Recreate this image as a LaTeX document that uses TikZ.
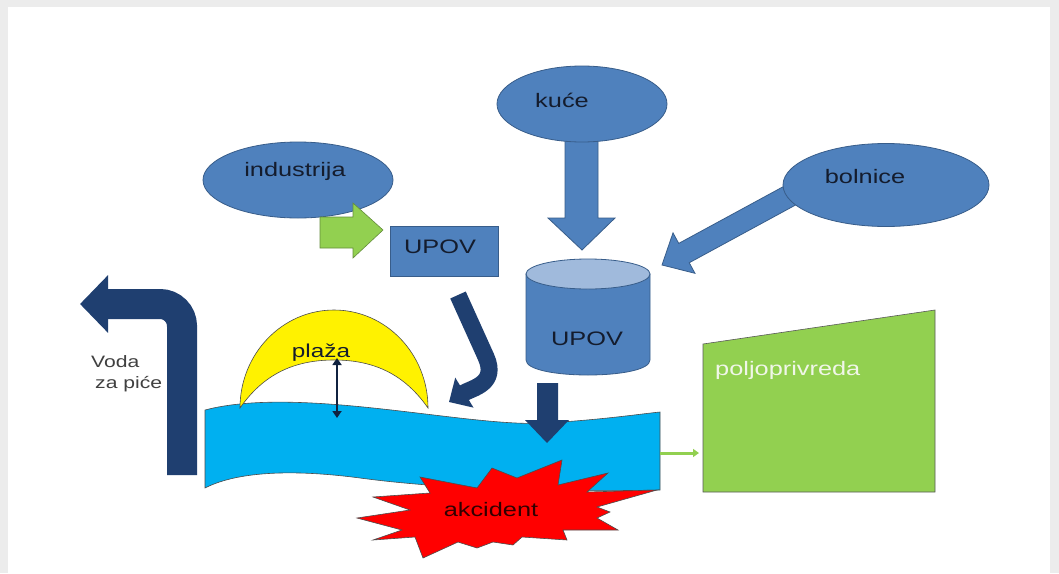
\documentclass[tikz,border=0pt]{standalone}
\usepackage{fontspec}
\setmainfont{Liberation Sans}
\usetikzlibrary{shapes.geometric,arrows.meta}
\definecolor{mblue}{RGB}{79,129,189}
\definecolor{mblueline}{RGB}{56,93,138}
\definecolor{ltblue}{RGB}{160,186,220}
\definecolor{navy}{RGB}{31,63,112}
\definecolor{dnavy}{RGB}{16,34,64}
\definecolor{lgreen}{RGB}{146,208,80}
\definecolor{dgreen}{RGB}{100,140,60}
\definecolor{cyanw}{RGB}{0,176,240}
\definecolor{txt}{RGB}{20,28,45}
\definecolor{bgc}{RGB}{236,236,236}
\newcommand\wide[1]{\scalebox{1.3}[1]{#1}}
\begin{document}
\begin{tikzpicture}[x=1pt,y=-1pt,
  lbl/.style={font=\fontsize{19.5}{23}\selectfont, text=txt, inner sep=0pt, anchor=base},
  blob/.style={ellipse, fill=mblue, draw=mblueline, line width=0.8pt, inner sep=0pt},
  bluearrow/.style={fill=mblue, draw=mblueline, line width=0.8pt},
  navyarrow/.style={fill=navy, draw=none},
  outl/.style={draw=black!70, line width=0.6pt}]
\useasboundingbox (0,0) rectangle (1059,573);
\fill[bgc] (0,0) rectangle (1059,573);
\fill[white] (8,7) rectangle (1050,573);

% river
\filldraw[fill=cyanw, outl] (205,410) .. controls (300,385) and (470,428) .. (545,423)
  .. controls (600,420) and (640,414) .. (660,412) -- (660,490)
  .. controls (560,492) and (450,490) .. (360,478)
  .. controls (300,470) and (240,470) .. (205,488) -- cycle;
\coordinate (riverR) at (660,453);

% beach crescent
\filldraw[fill=yellow, outl] (240,408) .. controls (240,354) and (282,310) .. (334,310)
  .. controls (386,310) and (428,354) .. (428,408)
  .. controls (405,375) and (375,360) .. (334,360)
  .. controls (293,360) and (263,375) .. (240,408) -- cycle;
\node[lbl] (plaza) at (321,357) {\fontsize{18.7}{22}\selectfont\wide{plaža}};
\coordinate (plTop) at (337,358);
\coordinate (plBot) at (337,418);
\draw[dnavy, line width=2.5pt, {Triangle[length=7pt,width=9pt]}-{Triangle[length=7pt,width=9pt]}] (plTop) -- (plBot);

% accident star
\filldraw[fill=red, outl] (562,460) -- (558,485) -- (608,473) -- (587,492) -- (657,490) -- (597,507)
  -- (610,512) -- (597,518) -- (618,530) -- (563,530) -- (567,540) -- (522,537) -- (513,545)
  -- (493,542) -- (477,548) -- (458,542) -- (423,558) -- (415,537) -- (373,540) -- (402,530)
  -- (357,518) -- (410,510) -- (373,497) -- (430,493) -- (420,477) -- (477,488) -- (492,468)
  -- (517,478) -- cycle;
\node[lbl, text={rgb,255:red,50;green,0;blue,0}] (akc) at (491,516) {\wide{akcident}};

% agriculture
\filldraw[fill=lgreen, draw=gray!70!black, line width=0.6pt] (703,344) -- (935,310) -- (935,492) -- (703,492) -- cycle;
\coordinate (poljL) at (699,453);
\node[lbl, anchor=base west, text={rgb,255:red,240;green,246;blue,232}] (polj) at (715,375) {\wide{poljoprivreda}};
\draw[lgreen, line width=3pt, -{Triangle[length=6pt,width=8pt]}] (riverR) -- (poljL);

% drinking water bent arrow
\draw[navy, line width=30pt, rounded corners=22pt, -{Triangle[length=28pt,width=56pt]}] (182,475) |- (80,304);
\node[lbl, anchor=base west, text=black!75, font=\fontsize{16.5}{20}\selectfont] (voda) at (91,367) {\scalebox{1.28}[1]{Voda}};
\node[lbl, anchor=base west, text=black!75, font=\fontsize{16.5}{20}\selectfont] (zapice) at (95,388) {\scalebox{1.28}[1]{za piće}};

% J arrow from small UPOV to river
\draw[navy, line width=17pt, -{Triangle[length=18pt,width=34pt]}] (458,295) -- (486,357)
  .. controls (498,384) and (472,388) .. (449,402);

% cylinder UPOV
\filldraw[fill=mblue, draw=mblueline, line width=0.8pt] (526,274) -- (526,360)
  .. controls (526,380) and (650,380) .. (650,360) -- (650,274) -- cycle;
\filldraw[fill=ltblue, draw=mblueline, line width=0.8pt] (588,274) ellipse [x radius=62, y radius=15];
\node[lbl] (upov2) at (587,345) {\wide{UPOV}};

% arrow from cylinder to river
\filldraw[navyarrow] (537,383) -- (558,383) -- (558,420) -- (569,420) -- (547,443) -- (525,420) -- (537,420) -- cycle;

% kuce arrow
\filldraw[bluearrow] (565,130) -- (598,130) -- (598,218) -- (615,218) -- (582,250) -- (548,218) -- (565,218) -- cycle;
% bolnice arrow
\begin{scope}[shift={(662,265)}, rotate=28.5]
\filldraw[bluearrow] (0,0) -- (25,23) -- (25,11) -- (170,11) -- (170,-11) -- (25,-11) -- (25,-23) -- cycle;
\end{scope}

% ellipses
\node[blob, minimum width=190pt, minimum height=76pt] (ind) at (298,180) {};
\node[lbl] (indt) at (295,176) {\wide{industrija}};
\node[blob, minimum width=170pt, minimum height=76pt] (kuce) at (582,104) {};
\node[lbl] (kucet) at (562,107) {\wide{kuće}};
\node[blob, minimum width=206pt, minimum height=83pt] (bol) at (886,185) {};
\node[lbl] (bolt) at (865,183) {\wide{bolnice}};

% green arrow from industry
\filldraw[fill=lgreen, draw=dgreen, line width=0.6pt] (320,217) -- (353,217) -- (353,203) -- (383,230) -- (353,258) -- (353,248) -- (320,248) -- cycle;

% small UPOV
\node[rectangle, fill=mblue, draw=mblueline, line width=0.8pt, minimum width=108pt, minimum height=50pt, inner sep=0pt] (upov1) at (444,251) {};
\node[lbl] (upov1t) at (440,253) {\wide{UPOV}};
\end{tikzpicture}
\end{document}
